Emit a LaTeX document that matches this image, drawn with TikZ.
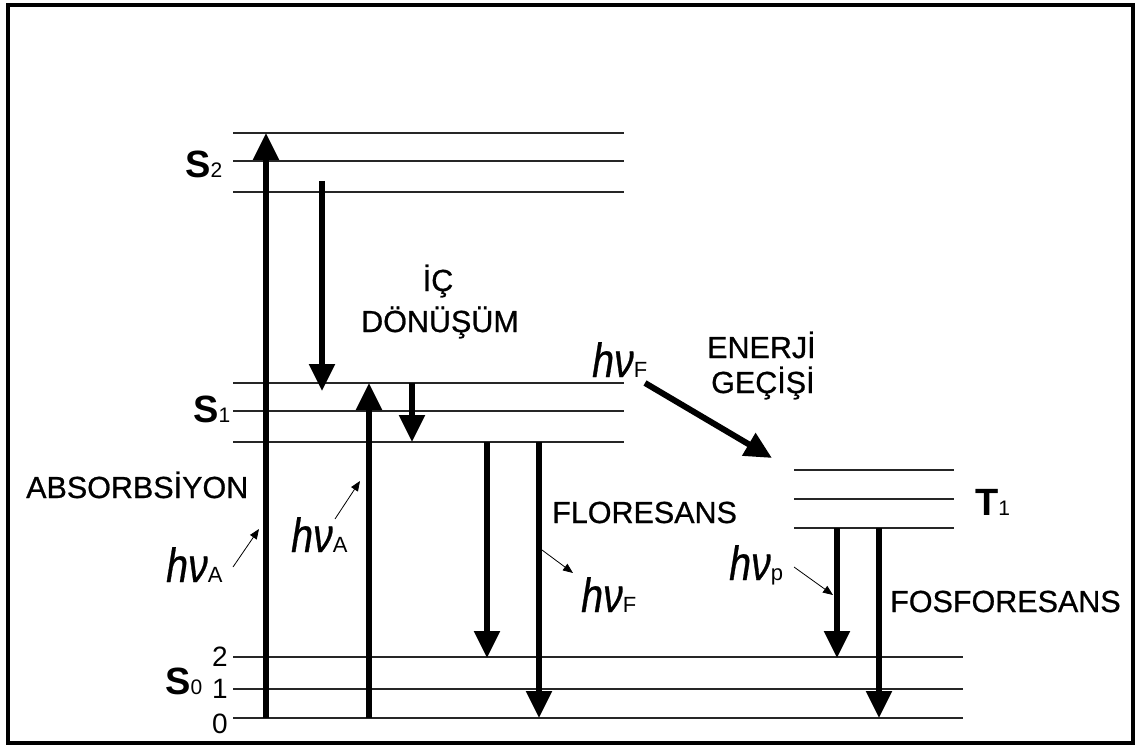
\documentclass[tikz,border=0pt]{standalone}
\usepackage{fontspec}
\setmainfont{Liberation Sans}
\newfontfamily\heavyfont[FakeBold=0.7]{Liberation Sans}
\usetikzlibrary{arrows.meta, positioning}

\newcommand{\hnu}[1]{\scalebox{0.82}[1]{\fontsize{48}{48}\selectfont\heavyfont\itshape hν}{\fontsize{22}{22}\selectfont #1}}
\newcommand{\subidx}[1]{{\fontsize{21}{21}\selectfont\mdseries #1}}

\begin{document}
\begin{tikzpicture}[x=1pt, y=-1pt,
    level/.style={line width=2pt, black!85},
    jump/.style={line width=5.5pt, -{Triangle[width=25pt, length=27pt]}},
    hint/.style={line width=0.8pt, -{Triangle[width=8pt, length=10pt]}},
    caps/.style={inner sep=0pt, anchor=base west, font=\fontsize{30.5}{31}\selectfont\heavyfont},
    state/.style={inner sep=0pt, anchor=base west, font=\fontsize{38}{38}\selectfont\bfseries},
    vib/.style={inner sep=0pt, anchor=base west, font=\fontsize{28}{28}\selectfont},
    photon/.style={inner sep=0pt, anchor=base west}]
    \useasboundingbox (0,0) rectangle (1136,746);
    \fill[white] (0,0) rectangle (1136,746);
    \draw[line width=4pt] (8,5) rectangle (1133,743);

    % energy levels
    \foreach \y in {133,161,192} \draw[level] (233,\y) -- (624,\y);
    \foreach \y in {383,411,442} \draw[level] (233,\y) -- (624,\y);
    \foreach \y in {470,499,528} \draw[level] (794,\y) -- (954,\y);
    \foreach \y in {657,689,718} \draw[level] (233,\y) -- (963,\y);

    % arrow ends
    \coordinate (abs1a) at (266,718); \coordinate (abs1b) at (266,133);
    \coordinate (abs2a) at (369,718); \coordinate (abs2b) at (369,383);
    \coordinate (ic1a) at (322,181);  \coordinate (ic1b) at (322,391);
    \coordinate (ic2a) at (412,383);  \coordinate (ic2b) at (412,442);
    \coordinate (flo1a) at (487,442); \coordinate (flo1b) at (487,658);
    \coordinate (flo2a) at (539,442); \coordinate (flo2b) at (539,718);
    \coordinate (ena) at (645,383);   \coordinate (enb) at (772,458);
    \coordinate (fos1a) at (837,528); \coordinate (fos1b) at (837,658);
    \coordinate (fos2a) at (879,528); \coordinate (fos2b) at (879,718);

    \draw[jump] (abs1a) -- (abs1b);
    \draw[jump] (abs2a) -- (abs2b);
    \draw[jump] (ic1a) -- (ic1b);
    \draw[jump] (ic2a) -- (ic2b);
    \draw[jump] (flo1a) -- (flo1b);
    \draw[jump] (flo2a) -- (flo2b);
    \draw[jump, line width=6pt] (ena) -- (enb);
    \draw[jump] (fos1a) -- (fos1b);
    \draw[jump] (fos2a) -- (fos2b);

    % state labels
    \node[state] (s2) at (185,178) {S\subidx{2}};
    \node[state] (s1) at (193,422) {S\subidx{1}};
    \node[state] (s0) at (165,694) {S\subidx{0}};
    \node[state] (t1) at (975,515) {T\subidx{1}};
    \node[vib] (v2) at (212,666) {2};
    \node[vib] (v1) at (212,698) {1};
    \node[vib] (v0) at (212,733) {0};

    % process labels
    \node[caps] (absorb) at (26,498) {ABSORBSİYON};
    \node[caps, anchor=base] (ic1) at (438,291) {İÇ};
    \node[caps, anchor=base] (ic2) at (440,332) {DÖNÜŞÜM};
    \node[caps] (flores) at (552,523) {FLORESANS};
    \node[caps] (ener1) at (707,358) {ENERJİ};
    \node[caps] (ener2) at (711,393) {GEÇİŞİ};
    \node[caps] (fosfor) at (890,612) {FOSFORESANS};

    % photons
    \node[photon] (hA1) at (166,582) {\hnu{A}};
    \node[photon] (hA2) at (291,552) {\hnu{A}};
    \node[photon] (hF1) at (592,377) {\hnu{F}};
    \node[photon] (hF2) at (581,612) {\hnu{F}};
    \node[photon] (hP) at (729,580) {\hnu{p}};

    \coordinate (pa1) at (233,567); \coordinate (pb1) at (259,529);
    \coordinate (pa2) at (335,519); \coordinate (pb2) at (360,481);
    \coordinate (pa3) at (542,550); \coordinate (pb3) at (573,573);
    \coordinate (pa4) at (794,567); \coordinate (pb4) at (833,595);
    \draw[hint] (pa1) -- (pb1);
    \draw[hint] (pa2) -- (pb2);
    \draw[hint] (pa3) -- (pb3);
    \draw[hint] (pa4) -- (pb4);
\end{tikzpicture}
\end{document}
